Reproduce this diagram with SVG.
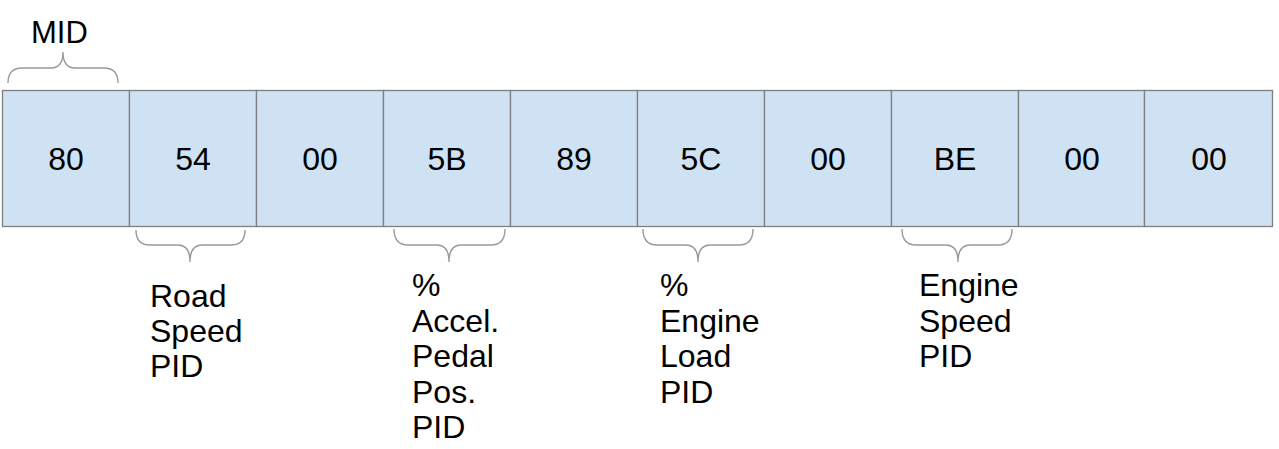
<svg xmlns="http://www.w3.org/2000/svg" width="1279" height="449" viewBox="0 0 1279 449">
<style>
.box{fill:#cfe2f3;stroke:#7f7f7f;stroke-width:1.3}
.num{font-family:"Liberation Sans",Arial,sans-serif;font-size:32px;fill:#000;text-anchor:middle}
.lbl{font-family:"Liberation Sans",Arial,sans-serif;font-size:32px;fill:#000}
.brace{fill:none;stroke:#9a9a9a;stroke-width:1.4}
</style>
<rect width="1279" height="449" fill="#fff"/>
<g id="mid-label"><text class="lbl" x="31" y="43" style="font-size:31px">MID</text></g>
<g id="b0"><rect class="box" x="2.5" y="90.5" width="127" height="136"/><text class="num" x="66" y="170">80</text></g>
<g id="b1"><rect class="box" x="129.5" y="90.5" width="127" height="136"/><text class="num" x="193" y="170">54</text></g>
<g id="b2"><rect class="box" x="256.5" y="90.5" width="127" height="136"/><text class="num" x="320" y="170">00</text></g>
<g id="b3"><rect class="box" x="383.5" y="90.5" width="127" height="136"/><text class="num" x="447" y="170">5B</text></g>
<g id="b4"><rect class="box" x="510.5" y="90.5" width="127" height="136"/><text class="num" x="574" y="170">89</text></g>
<g id="b5"><rect class="box" x="637.5" y="90.5" width="127" height="136"/><text class="num" x="701" y="170">5C</text></g>
<g id="b6"><rect class="box" x="764.5" y="90.5" width="127" height="136"/><text class="num" x="828" y="170">00</text></g>
<g id="b7"><rect class="box" x="891.5" y="90.5" width="127" height="136"/><text class="num" x="955" y="170">BE</text></g>
<g id="b8"><rect class="box" x="1018.5" y="90.5" width="126" height="136"/><text class="num" x="1082" y="170">00</text></g>
<g id="b9"><rect class="box" x="1144.5" y="90.5" width="128" height="136"/><text class="num" x="1209" y="170">00</text></g>
<g id="braces">
<path class="brace" d="M8 83 Q8 68 22 68 L51 68 Q63 68 63 52 Q63 68 75 68 L104 68 Q118 68 118 83"/>
<path class="brace" d="M136 230 Q136 245 150 245 L178 245 Q190 245 190 262 Q190 245 202 245 L231 245 Q245 245 245 230"/>
<path class="brace" d="M394 229 Q394 245 408 245 L437 245 Q449 245 449 262 Q449 245 461 245 L491 245 Q505 245 505 229"/>
<path class="brace" d="M643 229 Q643 245 657 245 L686 245 Q698 245 698 262 Q698 245 710 245 L739 245 Q753 245 753 229"/>
<path class="brace" d="M902 229 Q902 245 916 245 L946 245 Q958 245 958 262 Q958 245 970 245 L998 245 Q1012 245 1012 229"/>
</g>
<g id="lbl-road"><text class="lbl" x="150" y="307">Road</text><text class="lbl" x="150" y="342">Speed</text><text class="lbl" x="150" y="377">PID</text></g>
<g id="lbl-accel"><text class="lbl" x="412" y="296">%</text><text class="lbl" x="412" y="331.5">Accel.</text><text class="lbl" x="412" y="367">Pedal</text><text class="lbl" x="412" y="402.5">Pos.</text><text class="lbl" x="412" y="438">PID</text></g>
<g id="lbl-load"><text class="lbl" x="660" y="296">%</text><text class="lbl" x="660" y="331.5">Engine</text><text class="lbl" x="660" y="367">Load</text><text class="lbl" x="660" y="402.5">PID</text></g>
<g id="lbl-speed"><text class="lbl" x="919" y="296">Engine</text><text class="lbl" x="919" y="331.5">Speed</text><text class="lbl" x="919" y="367">PID</text></g>
</svg>
